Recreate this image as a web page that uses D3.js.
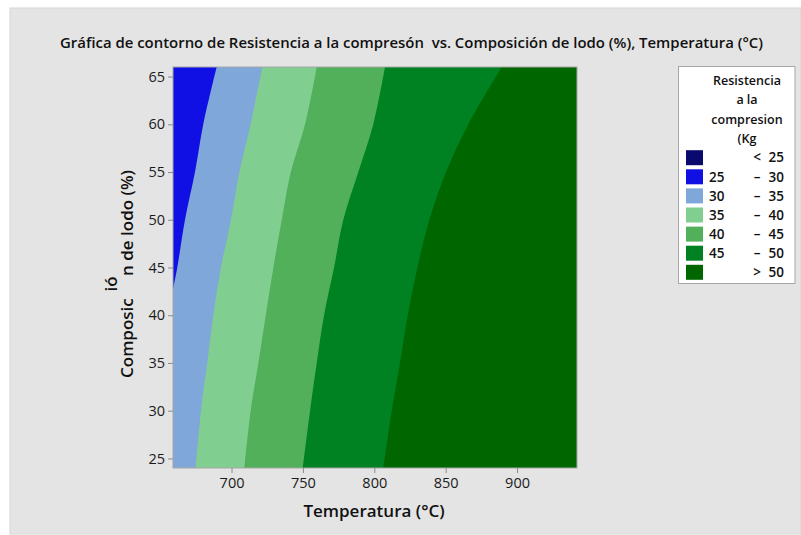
<!DOCTYPE html>
<html>
<head>
<meta charset="utf-8">
<script src="https://cdn.jsdelivr.net/npm/d3@7"></script>
<style>
  html, body { margin: 0; padding: 0; background: #ffffff; }
  svg text { font-family: "Open Sans", "Noto Sans", sans-serif; }
</style>
</head>
<body>
<svg id="chart" width="801" height="535"></svg>
<script>
// ---- Data ----
const compLevels = [24, 30, 35, 40, 45, 50, 55, 60, 66];           // Composición de lodo (%)
// Temperatures (°C) of each contour boundary at those composition levels
const boundary30Comp = [42.7, 45, 50, 55, 60, 66];
const boundary30 = [659, 662.0, 667.4, 674.4, 680.2, 689.6];
const boundary35 = [674.9, 678.6, 683.0, 687.2, 692.6, 699.6, 705.5, 713.4, 721.6];
const boundary40 = [709.0, 713.4, 718.8, 724.0, 729.3, 735.2, 741.5, 751.5, 759.7];
const boundary45 = [749.9, 755.0, 759.7, 764.8, 771.8, 778.3, 788.8, 799.3, 807.5];
const boundary50 = [806.3, 812.2, 818.0, 823.4, 830.2, 838.6, 850.3, 865.9, 889.3];

const xTicks = [700, 750, 800, 850, 900];
const yTicks = [25, 30, 35, 40, 45, 50, 55, 60, 65];

const legendLow  = ["", "25", "30", "35", "40", "45", ""];
const legendSym  = ["<", "–", "–", "–", "–", "–", ">"];
const legendHigh = ["25", "30", "35", "40", "45", "50", "50"];
const bandColors = ["#0a0a6e", "#1010e4", "#7fa7d9", "#80cf90", "#52b05b", "#008222", "#006600"];

const titleText = "Gráfica de contorno de Resistencia a la compresón  vs. Composición de lodo (%), Temperatura (°C)";

// ---- Layout ----
const svg = d3.select("#chart");
const W = 801, H = 535;
const plot = { left: 173, right: 577, top: 67, bottom: 468 };

const x = d3.scaleLinear().domain([659, 942]).range([plot.left, plot.right]);
const y = d3.scaleLinear().domain([24, 66]).range([plot.bottom, plot.top]);

// background panel
svg.append("rect").attr("x", 10).attr("y", 8).attr("width", W - 10).attr("height", H - 9)
  .attr("fill", "#e4e4e4").attr("stroke", "#d6d6d6").attr("stroke-width", 1);

// title
svg.append("text")
  .attr("x", 60).attr("y", 47.5)
  .attr("textLength", 703).attr("lengthAdjust", "spacingAndGlyphs")
  .style("white-space", "pre")
  .attr("font-size", 13.5).attr("font-weight", 600).attr("fill", "#111")
  .text(titleText);

// clip
svg.append("clipPath").attr("id", "plotclip").append("rect")
  .attr("x", plot.left).attr("y", plot.top)
  .attr("width", plot.right - plot.left).attr("height", plot.bottom - plot.top);

const g = svg.append("g").attr("clip-path", "url(#plotclip)");

// base layer (30–35 band)
g.append("rect").attr("x", plot.left).attr("y", plot.top)
  .attr("width", plot.right - plot.left).attr("height", plot.bottom - plot.top)
  .attr("fill", bandColors[2]);

const curve = d3.curveCatmullRom.alpha(0.5);

// 25–30 band: left edge to boundary30
const b30 = boundary30Comp.map((c, i) => ({ c, t: boundary30[i] }));
g.append("path")
  .attr("d", d3.area().curve(curve)
    .y(d => y(d.c)).x0(x.range()[0] - 2).x1(d => x(d.t))(b30))
  .attr("fill", bandColors[1]);

// bands to the right of each boundary
const rightBands = [
  { vals: boundary35, color: bandColors[3] },
  { vals: boundary40, color: bandColors[4] },
  { vals: boundary45, color: bandColors[5] },
  { vals: boundary50, color: bandColors[6] }
];
rightBands.forEach(b => {
  const pts = compLevels.map((c, i) => ({ c, t: b.vals[i] }));
  g.append("path")
    .attr("d", d3.area().curve(curve)
      .y(d => y(d.c)).x0(d => x(d.t)).x1(x.range()[1] + 2)(pts))
    .attr("fill", b.color);
});

// frame
svg.append("rect").attr("x", plot.left).attr("y", plot.top)
  .attr("width", plot.right - plot.left).attr("height", plot.bottom - plot.top)
  .attr("fill", "none").attr("stroke", "#a6a6a6").attr("stroke-width", 1);

// axes
const xAxis = svg.append("g").attr("transform", `translate(0,${plot.bottom})`)
  .call(d3.axisBottom(x).tickValues(xTicks).tickSize(5).tickPadding(5).tickFormat(d3.format("d")));
const yAxis = svg.append("g").attr("transform", `translate(${plot.left},0)`)
  .call(d3.axisLeft(y).tickValues(yTicks).tickSize(5).tickPadding(3).tickFormat(d3.format("d")));
[xAxis, yAxis].forEach(a => {
  a.select(".domain").remove();
  a.selectAll(".tick line").attr("stroke", "#8c8c8c");
  a.selectAll(".tick text").attr("font-size", 14.5).attr("fill", "#1a1a1a")
    .attr("font-family", "'Open Sans', sans-serif");
});

// axis titles
svg.append("text").attr("x", 374).attr("y", 517).attr("text-anchor", "middle")
  .attr("font-size", 17).attr("font-weight", 600).attr("fill", "#111")
  .text("Temperatura (°C)");

svg.append("text").attr("transform", "translate(133,378) rotate(-90)")
  .attr("text-anchor", "start").attr("font-size", 17).attr("font-weight", 600).attr("fill", "#111")
  .text("Composic");
svg.append("text").attr("transform", "translate(133,276) rotate(-90)")
  .attr("text-anchor", "start").attr("font-size", 17).attr("font-weight", 600).attr("fill", "#111")
  .text("n de lodo (%)");
svg.append("text").attr("transform", "translate(117,284) rotate(-90)")
  .attr("text-anchor", "middle").attr("font-size", 17).attr("font-weight", 600).attr("fill", "#111")
  .text("ió");

// legend
const lg = svg.append("g");
lg.append("rect").attr("x", 678.5).attr("y", 66.5).attr("width", 116.5).attr("height", 217)
  .attr("fill", "#ffffff").attr("stroke", "#a6a6a6");
const legendTitle = ["Resistencia", "a la", "compresion", "(Kg"];
legendTitle.forEach((t, i) => {
  lg.append("text").attr("x", 747).attr("y", 85 + i * 19.3).attr("text-anchor", "middle")
    .attr("font-size", 12.5).attr("font-weight", 600).attr("fill", "#111").text(t);
});
bandColors.forEach((col, i) => {
  const cy = 157.7 + i * 19.1;
  lg.append("rect").attr("x", 686).attr("y", cy - 7.5).attr("width", 17).attr("height", 15).attr("fill", col);
  lg.append("text").attr("x", 709).attr("y", cy + 4.7).attr("font-size", 13.5).attr("font-weight", 600)
    .attr("fill", "#111").text(legendLow[i]);
  lg.append("text").attr("x", 757).attr("y", cy + 4.7).attr("text-anchor", "middle").attr("font-size", 13.5)
    .attr("font-weight", 600).attr("fill", "#111").text(legendSym[i]);
  lg.append("text").attr("x", 784).attr("y", cy + 4.7).attr("text-anchor", "end").attr("font-size", 13.5)
    .attr("font-weight", 600).attr("fill", "#111").text(legendHigh[i]);
});
</script>
</body>
</html>
